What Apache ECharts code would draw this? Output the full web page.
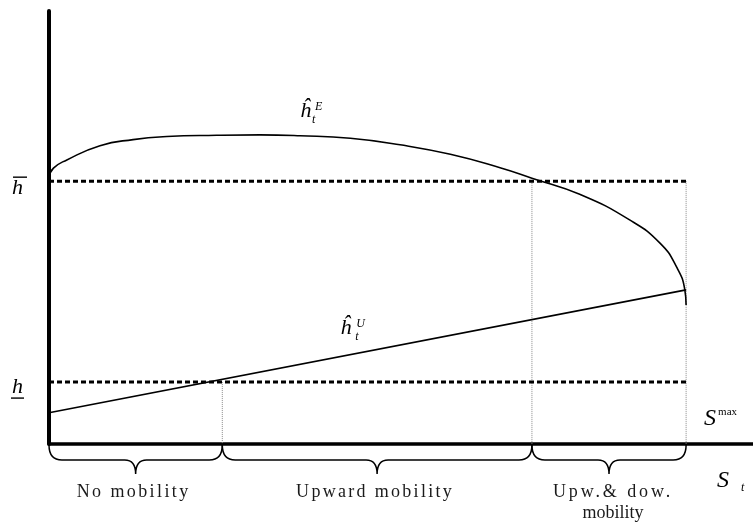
<!DOCTYPE html>
<html>
<head>
<meta charset="utf-8">
<script src="https://cdn.jsdelivr.net/npm/echarts@6/dist/echarts.min.js"></script>
<style>
html, body { margin: 0; padding: 0; background: #fff; }
#chart { width: 753px; height: 523px; }
</style>
</head>
<body>
<div id="chart"></div>
<script>
// S axis: S max sits at 100, the axis runs a bit past it
var sMax = 100;
var xMax = 110.5;
var yMax = 100;

var hBar = 60.7;
var hUnder = 14.3;

// h hat E curve
var eX = [0, 0.7, 2.8, 8.0, 13.2, 18.5, 26.3, 33.1, 39.4, 47.3, 55.1, 63.0, 70.8, 75.8, 83.4, 91.2, 95.9, 98.5, 99.8, 100];
var eY = [61.5, 63.7, 65.6, 68.9, 70.3, 71.0, 71.3, 71.4, 71.2, 70.6, 69.1, 66.9, 63.8, 61.4, 57.6, 51.7, 46.4, 40.9, 35.6, 32.1];

// h hat U line
var uX = [0, 100];
var uY = [7.2, 35.6];

// regimes along S
var regimeStart = [0, 27.2, 75.8];
var regimeEnd = [27.2, 75.8, 100];
var regimeLabels = ['No mobility', 'Upward mobility', 'Upw.& dow.\nmobility'];

// thin dotted verticals: where they sit and where they start
var cutoffs = [27.2, 75.8, 100];
var cutoffTops = [hUnder, hBar, hBar];

// spread of the regime words (the source has them spaced out)
var spacing = { 'No mobility': 2.4, 'Upward mobility': 2.3, 'Upw.& dow.': 2.9 };

var serif = '"Liberation Serif", "Times New Roman", serif';

// canvas has letterSpacing but zrender never sets it, so add it for those words only
var baseFillText = CanvasRenderingContext2D.prototype.fillText;
CanvasRenderingContext2D.prototype.fillText = function(text) {
    if ('letterSpacing' in this) {
        var ls = spacing[text] || 0;
        this.letterSpacing = ls + 'px';
        this.font = this.font;
    }
    return baseFillText.apply(this, arguments);
};

function zip(xs, ys) {
    var out = [];
    xs.forEach(function(x, i) {
        out.push([x, ys[i]]);
    });
    return out;
}

function renderBrace(params, api) {
    var a = api.coord([api.value(0), 0]);
    var b = api.coord([api.value(1), 0]);
    var x0 = a[0], x1 = b[0], xm = (x0 + x1) / 2;
    var y0 = a[1] + 1, y1 = y0 + 15, y2 = y0 + 29;
    var r = 13, rt = 11;
    var d = 'M' + x0 + ' ' + y0 +
        ' Q' + x0 + ' ' + y1 + ' ' + (x0 + r) + ' ' + y1 +
        ' L' + (xm - rt) + ' ' + y1 +
        ' Q' + xm + ' ' + y1 + ' ' + xm + ' ' + y2 +
        ' Q' + xm + ' ' + y1 + ' ' + (xm + rt) + ' ' + y1 +
        ' L' + (x1 - r) + ' ' + y1 +
        ' Q' + x1 + ' ' + y1 + ' ' + x1 + ' ' + y0;
    return {
        type: 'group',
        children: [{
            type: 'path',
            shape: { pathData: d },
            style: { stroke: '#000', fill: null, lineWidth: 1.5 }
        }, {
            type: 'text',
            x: xm + (params.dataIndex === 2 ? 4 : -2),
            y: y0 + 37,
            style: {
                text: regimeLabels[params.dataIndex],
                font: '18px ' + serif,
                fill: '#1a1a1a',
                align: 'center',
                verticalAlign: 'top',
                lineHeight: 21
            }
        }]
    };
}

var chart = echarts.init(document.getElementById('chart'));

var series = [{
    name: 'hE',
    type: 'line',
    data: zip(eX, eY),
    smooth: 0.5,
    showSymbol: false,
    lineStyle: { color: '#000', width: 1.6 }
}, {
    name: 'hU',
    type: 'line',
    data: zip(uX, uY),
    showSymbol: false,
    lineStyle: { color: '#000', width: 1.6 }
}, {
    name: 'hBar',
    type: 'line',
    data: [[0, hBar], [sMax, hBar]],
    showSymbol: false,
    lineStyle: { color: '#000', width: 3, type: [5, 3] }
}, {
    name: 'hUnder',
    type: 'line',
    data: [[0, hUnder], [sMax, hUnder]],
    showSymbol: false,
    lineStyle: { color: '#000', width: 3, type: [5, 3] }
}, {
    name: 'braces',
    type: 'custom',
    renderItem: renderBrace,
    data: zip(regimeStart, regimeEnd),
    clip: false
}];

cutoffs.forEach(function(x, i) {
    series.push({
        type: 'line',
        data: [[x, cutoffTops[i]], [x, 0]],
        showSymbol: false,
        z: 1,
        lineStyle: { color: '#888', width: 1, type: [1, 1] }
    });
});

option = {
    animation: false,
    backgroundColor: '#fff',
    grid: { left: 49, right: 0, top: 11, bottom: 79 },
    xAxis: {
        type: 'value',
        min: 0,
        max: xMax,
        axisLine: { lineStyle: { color: '#000', width: 3.5 } },
        axisTick: { show: false },
        axisLabel: { show: false },
        splitLine: { show: false }
    },
    yAxis: {
        type: 'value',
        min: 0,
        max: yMax,
        axisLine: { show: true, lineStyle: { color: '#000', width: 4 } },
        axisTick: { show: false },
        axisLabel: { show: false },
        splitLine: { show: false }
    },
    series: series
};

chart.setOption(option);

// math labels, anchored on data points with small pixel offsets
function px(pt) {
    return chart.convertToPixel({ gridIndex: 0 }, pt);
}

function label(anchor, dx, dy, text, font) {
    var p = px(anchor);
    return {
        type: 'text',
        x: p[0] + dx,
        y: p[1] + dy,
        silent: true,
        style: { text: text, font: font, fill: '#000', align: 'left', verticalAlign: 'middle' }
    };
}

function rule(anchor, dx1, dx2, dy) {
    var p = px(anchor);
    return {
        type: 'line',
        silent: true,
        shape: { x1: p[0] + dx1, y1: p[1] + dy, x2: p[0] + dx2, y2: p[1] + dy },
        style: { stroke: '#000', lineWidth: 1.4 }
    };
}

var big = 'italic 22px ' + serif;
var small = 'italic 12px ' + serif;

chart.setOption({
    graphic: [
        label([0, hBar], -37, 7, 'h', big),
        rule([0, hBar], -36, -22, -4),
        label([0, hUnder], -37, 5, 'h', big),
        rule([0, hUnder], -38, -25, 16),
        label([39.4, 71.2], 0, -24, '\u0125', big),
        label([39.4, 71.2], 15, -29, 'E', small),
        label([39.4, 71.2], 12, -16, 't', small),
        label([45.7, 20.2], 0, -28, '\u0125', big),
        label([45.7, 20.2], 16, -33, 'U', small),
        label([45.7, 20.2], 15, -20, 't', small),
        label([sMax, 0], 18, -25, 'S', 'italic 24px ' + serif),
        label([sMax, 0], 32, -32, 'max', '11px ' + serif),
        label([sMax, 0], 31, 37, 'S', 'italic 24px ' + serif),
        label([sMax, 0], 55, 44, 't', small)
    ]
});
</script>
</body>
</html>
